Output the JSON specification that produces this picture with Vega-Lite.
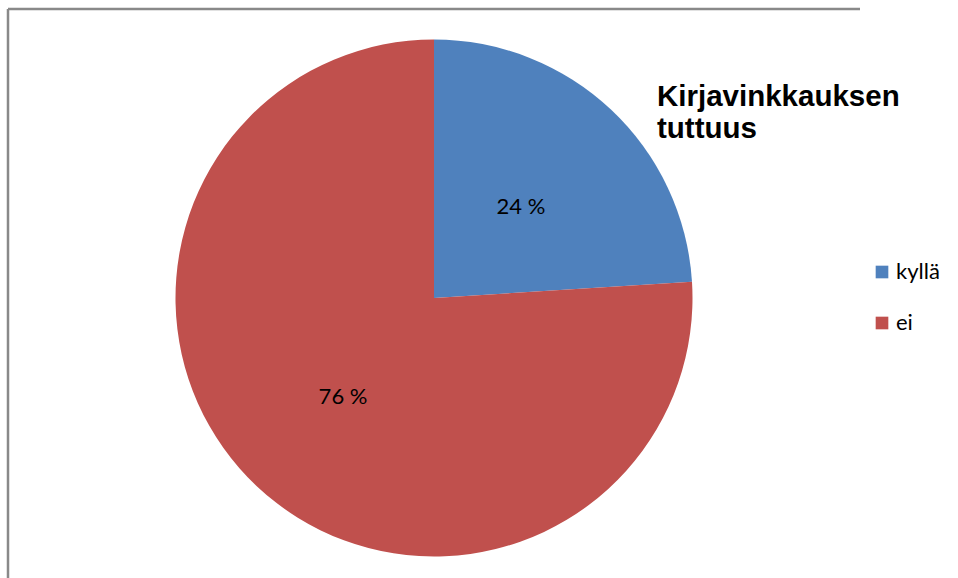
{
  "$schema": "https://vega.github.io/schema/vega-lite/v6.json",
  "autosize": {"type": "none"},
  "width": 852,
  "height": 578,
  "padding": {"left": 8, "top": 9, "right": 98, "bottom": 0},
  "background": "#ffffff",
  "view": {"stroke": "#898989", "strokeWidth": 2.5, "strokeDash": [852, 1430, 578, 0]},
  "data": {"values": [
    {"vastaus": "kyllä", "jarjestys": 1, "osuus": 24, "teksti": "24 %"},
    {"vastaus": "ei", "jarjestys": 2, "osuus": 76, "teksti": "76 %"}
  ]},
  "title": {
    "text": ["Kirjavinkkauksen", "tuttuus"],
    "orient": "top",
    "anchor": "start",
    "frame": "group",
    "offset": 0,
    "dx": 649,
    "dy": 135,
    "baseline": "top",
    "font": "Liberation Sans",
    "fontSize": 29.5,
    "fontWeight": "bold",
    "lineHeight": 32,
    "color": "#000000"
  },
  "encoding": {
    "theta": {"field": "osuus", "type": "quantitative", "stack": true},
    "order": {"field": "jarjestys", "type": "quantitative", "sort": "ascending"}
  },
  "layer": [
    {
      "mark": {"type": "arc", "outerRadius": 258.5},
      "encoding": {
        "color": {
          "field": "vastaus",
          "type": "nominal",
          "sort": ["kyllä", "ei"],
          "scale": {"domain": ["kyllä", "ei"], "range": ["#4F81BD", "#C0504D"]},
          "legend": {
            "title": null,
            "orient": "none",
            "legendX": 863,
            "legendY": 252,
            "symbolType": "square",
            "symbolSize": 160,
            "symbolStrokeWidth": 0,
            "symbolOpacity": 1,
            "labelFont": "Lato",
            "labelFontSize": 22,
            "labelColor": "#000000",
            "labelOffset": 3,
            "rowPadding": 29
          }
        }
      }
    },
    {
      "mark": {"type": "text", "radius": 130, "dy": 4, "dx": -2, "font": "Lato", "fontSize": 22, "fill": "#000000"},
      "encoding": {"text": {"field": "teksti", "type": "nominal"}}
    }
  ]
}
